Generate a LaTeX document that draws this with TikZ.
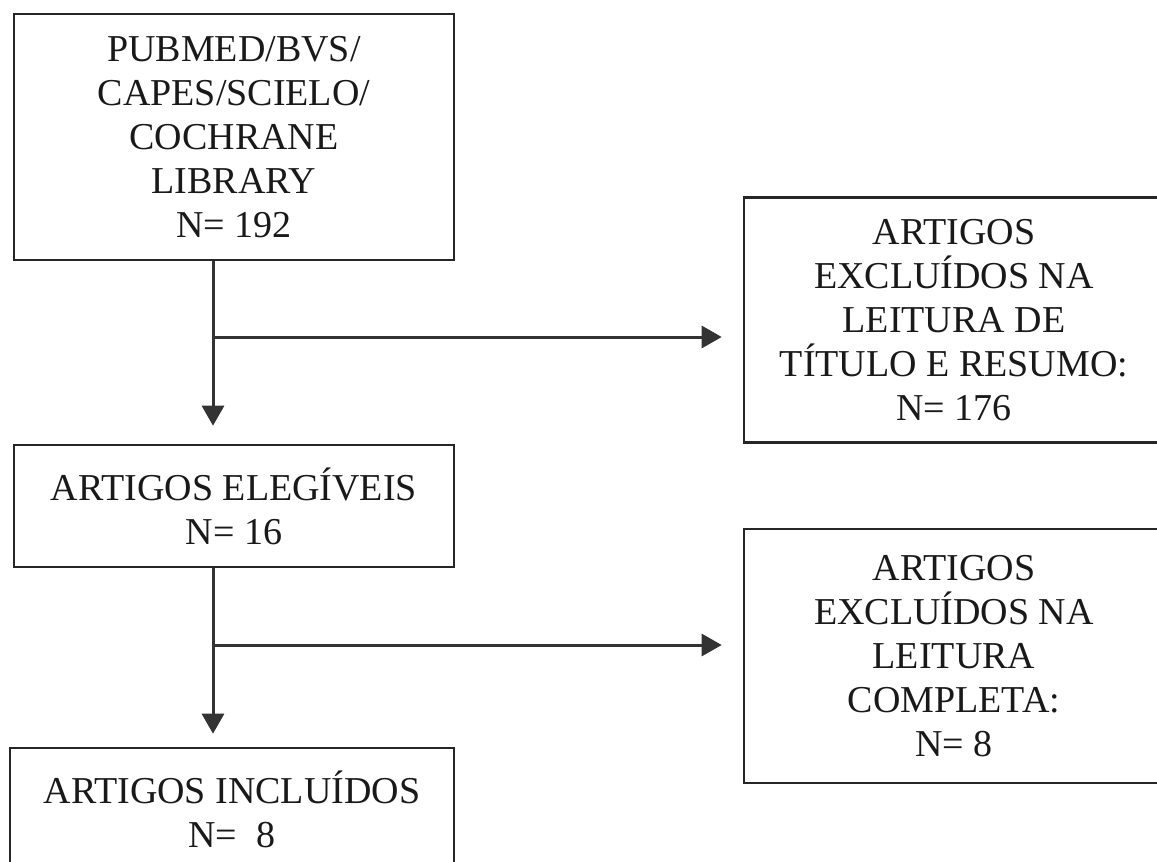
\documentclass[tikz,border=0pt]{standalone}
\usepackage{fontspec}
\setmainfont{Liberation Serif}
\usetikzlibrary{positioning}
\usetikzlibrary{arrows.meta}

\begin{document}
\begin{tikzpicture}[x=0.5pt,y=-0.5pt]
    % Estilos das caixas e setas
    \tikzset{
        caixa/.style={
            draw=black!85,
            line width=1.3pt,
            align=center,
            inner sep=0pt,
            text=black!90,
            font=\fontsize{19}{22}\selectfont
        },
        seta/.style={
            draw=black!80,
            line width=1.5pt,
            -{Triangle[width=11pt,length=10pt]}
        }
    }
    \useasboundingbox (0,0) rectangle (1157,862);

    % Caixas principais
    \node[caixa, minimum width=220pt, minimum height=123pt] (busca) at (234,137)
        {PUBMED/BVS/\\CAPES/SCIELO/\\COCHRANE\\LIBRARY\\N= 192};
    \node[caixa, minimum width=220pt, minimum height=61pt] (elegiveis) at (234,506)
        {ARTIGOS ELEGÍVEIS\\N= 16};
    \node[caixa, minimum width=222pt, minimum height=61pt] (incluidos) at (232,809)
        {ARTIGOS INCLUÍDOS\\N=\ \ 8};

    % Caixas de exclusao
    \node[caixa, minimum width=210pt, minimum height=122.5pt] (excl1) at (954,320)
        {ARTIGOS\\EXCLUÍDOS NA\\LEITURA DE\\TÍTULO E RESUMO:\\N= 176};
    \node[caixa, minimum width=210pt, minimum height=127pt] (excl2) at (954,656)
        {ARTIGOS\\EXCLUÍDOS NA\\LEITURA\\COMPLETA:\\N= 8};

    % Setas
    \coordinate (eixo1) at (213,337);
    \coordinate (eixo2) at (213,645);
    \draw[seta, shorten >=9pt] (busca.south -| eixo1) -- (elegiveis.north -| eixo1);
    \draw[seta, shorten >=10.5pt] (eixo1) -- (eixo1 -| excl1.west);
    \draw[seta, shorten >=6.5pt] (elegiveis.south -| eixo2) -- (incluidos.north -| eixo2);
    \draw[seta, shorten >=10.5pt] (eixo2) -- (eixo2 -| excl2.west);
\end{tikzpicture}
\end{document}
